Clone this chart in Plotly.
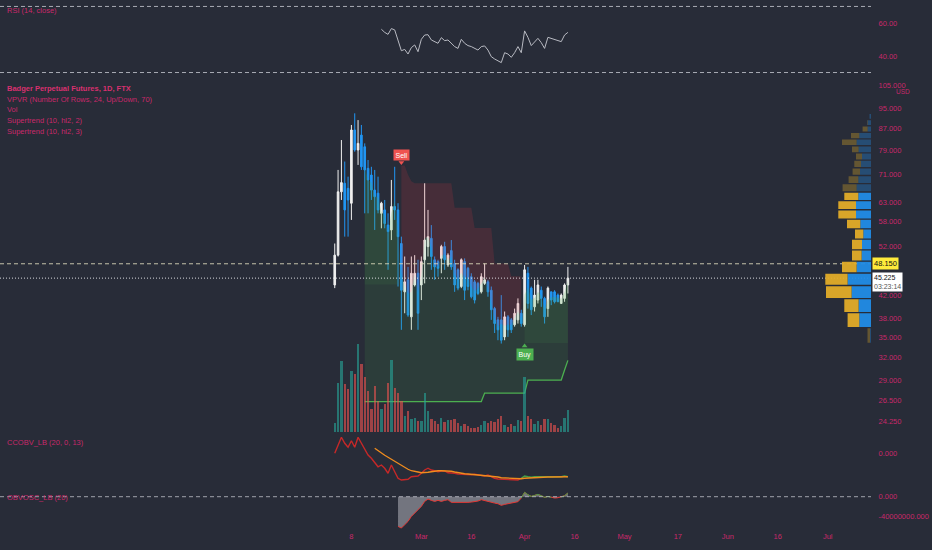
import numpy as np
import pandas as pd
import plotly.graph_objects as go

# ---------------- data ----------------
dates = pd.date_range("2021-02-03", periods=71, freq="D")

opens = [43.9, 50.0, 65.9, 68.4, 66.9, 62.7, 86.3, 79.1, 84.4, 80.2,
         73.0, 70.9, 66.4, 65.5, 60.0, 60.9, 57.0, 55.8, 61.8, 60.9,
         52.6, 42.6, 44.9, 38.2, 43.9, 46.2, 43.9, 49.0, 51.9, 53.8,
         49.0, 48.6, 49.3, 51.9, 47.9, 51.0, 48.2, 46.9, 43.6, 48.6,
         47.2, 45.5, 44.5, 44.2, 42.6, 44.2, 44.5, 42.9, 39.6, 37.7,
         37.7, 35.0, 38.2, 37.7, 36.9, 37.7, 38.8, 36.9, 46.2, 43.3,
         39.9, 41.1, 42.9, 41.4, 39.6, 42.6, 42.6, 42.0, 40.5, 41.4,
         43.9]
highs = [52.6, 72.5, 82.6, 75.2, 70.4, 88.2, 92.8, 90.1, 88.2, 81.4,
         75.7, 73.5, 72.5, 70.4, 63.1, 63.6, 60.0, 69.4, 73.5, 62.7,
         54.2, 49.7, 47.5, 49.7, 50.0, 49.0, 49.7, 68.4, 60.9, 57.0,
         49.7, 49.0, 52.3, 53.0, 50.4, 53.4, 49.0, 47.2, 49.3, 49.3,
         47.5, 46.2, 44.9, 44.5, 46.2, 48.2, 44.9, 43.6, 39.9, 38.2,
         42.0, 39.1, 38.5, 38.0, 39.6, 41.4, 39.4, 47.9, 47.5, 43.6,
         44.9, 44.9, 43.6, 41.7, 43.6, 42.6, 42.9, 42.3, 42.3, 44.2,
         47.5]
lows = [43.3, 49.7, 63.6, 54.2, 54.2, 58.3, 78.5, 74.1, 72.5, 60.0,
        60.0, 63.6, 55.8, 60.0, 56.2, 56.2, 46.9, 53.4, 58.3, 43.6,
        36.1, 38.8, 38.2, 36.1, 43.6, 36.1, 41.1, 44.2, 49.7, 46.9,
        44.9, 45.5, 46.2, 46.9, 47.5, 46.9, 42.6, 42.9, 43.3, 41.1,
        42.9, 41.4, 40.5, 42.0, 42.3, 43.9, 41.7, 37.7, 35.6, 34.5,
        34.0, 34.5, 35.0, 35.6, 36.6, 37.1, 36.6, 36.6, 39.6, 38.5,
        39.1, 40.5, 39.9, 37.1, 38.2, 40.2, 40.5, 40.8, 40.5, 40.8,
        42.3]
closes = [50.0, 65.9, 68.6, 60.9, 63.6, 86.3, 79.1, 81.4, 73.5, 72.5,
          69.4, 66.4, 64.5, 60.9, 62.7, 57.4, 55.4, 61.8, 60.9, 54.2,
          42.9, 44.5, 38.5, 46.2, 46.2, 38.8, 48.6, 53.4, 54.2, 49.7,
          47.5, 47.2, 51.9, 49.0, 50.0, 47.5, 43.9, 43.3, 49.0, 42.9,
          43.6, 41.7, 41.1, 42.3, 45.5, 44.9, 42.6, 39.4, 37.1, 36.1,
          34.5, 38.2, 36.1, 36.1, 38.8, 40.5, 37.1, 46.9, 40.5, 39.4,
          42.0, 43.9, 41.4, 38.2, 43.3, 41.1, 40.8, 40.8, 42.0, 43.9,
          45.225]
volume_k = [280, 1480, 2130, 1430, 1280, 1830, 1730, 2630, 2030, 1660,
            1230, 680, 1380, 930, 680, 830, 1480, 2150, 1330, 1180,
            930, 480, 630, 380, 410, 330, 330, 1180, 630, 380,
            330, 230, 410, 310, 350, 350, 380, 280, 180, 230,
            180, 130, 130, 150, 200, 330, 280, 330, 310, 380,
            480, 200, 160, 230, 180, 350, 330, 1650, 480, 380,
            230, 330, 210, 400, 380, 280, 200, 130, 180, 430,
            660]

rsi_start = 14
rsi_vals = [56.2, 54.3, 53.1, 56.6, 55.8, 49.7, 43.2, 44.0, 41.2, 45.1,
            46.7, 42.6, 50.1, 52.7, 52.9, 49.7, 48.7, 47.7, 51.1, 49.3,
            49.7, 47.7, 45.7, 44.6, 50.1, 47.7, 46.3, 45.7, 44.6, 43.6,
            45.7, 46.1, 43.6, 39.6, 38.2, 37.0, 36.0, 42.0, 41.2, 39.2,
            42.0, 45.7, 42.0, 55.2, 51.3, 46.3, 48.7, 50.7, 48.1, 44.6,
            51.3, 50.7, 50.1, 49.1, 48.7, 52.7, 54.3]

ccobv_m = [-0.1, 2.8, 6.3, 3.9, 2.3, 4.9, 2.3, 6.3, 3.9, 1.2,
           -0.8, -2.1, -3.9, -5.5, -4.8, -6.1, -8.1, -4.8, -7.5, -10.1,
           -10.8, -10.5, -10.5, -9.5, -9.2, -9.2, -8.1, -6.8, -6.1, -6.8,
           -7.1, -7.5, -7.2, -7.2, -7.9, -7.9, -8.1, -8.4, -8.5, -8.8,
           -8.8, -8.7, -8.5, -8.8, -8.8, -9.2, -8.8, -9.5, -10.1, -10.4,
           -10.5, -10.5, -10.7, -10.8, -10.8, -10.8, -10.1, -9.2, -9.5, -9.7,
           -9.5, -9.5, -9.5, -9.5, -9.7, -9.7, -9.5, -9.5, -9.5, -9.2,
           -9.5]
signal_start = 12
ccobv_signal_m = [1.9, 0.9, -0.1, -0.9, -1.7, -2.5, -3.5, -4.3, -5.2, -5.9,
                  -6.5, -7.1, -7.5, -7.6, -7.9, -7.9, -7.7, -7.5, -7.2, -7.1,
                  -7.1, -7.1, -7.2, -7.3, -7.6, -7.9, -8.1, -8.3, -8.4, -8.5,
                  -8.8, -8.8, -8.9, -9.1, -9.2, -9.3, -9.5, -9.6, -9.9, -10.0,
                  -10.1, -10.1, -10.3, -10.3, -10.3, -10.1, -10.0, -9.9, -9.7, -9.7,
                  -9.7, -9.7, -9.6, -9.6, -9.6, -9.6, -9.6, -9.6, -9.5]
ccobv_green_from = 56

obvosc_start = 19
obvosc_m = [-61.4, -64.9, -57.9, -51.1, -40.8, -33.8, -27.0, -20.0, -9.7, -4.8,
            -7.6, -9.7, -7.6, -9.7, -7.6, -6.2, -11.7, -11.7, -13.2, -11.7,
            -11.7, -11.7, -11.1, -10.3, -9.0, -6.2, -8.3, -10.3, -11.7, -13.2,
            -14.5, -17.9, -15.9, -14.5, -13.2, -11.7, -10.3, -2.7, 9.0, 4.1,
            0.7, 2.7, 4.8, 2.1, -1.4, 0.7, -1.4, -2.7, -2.1, -0.7,
            2.1, 7.6]

# Supertrend (10, hl2, 2)
st2_up_early_start = 9
st2_up_early = [44.0, 44.0, 44.0, 44.0, 44.0, 44.0, 44.0, 44.0, 44.0, 44.0, 44.0]
st2_dn_start = 20
st2_dn = [73.9, 73.9, 71.0, 69.0,
          68.4, 68.4, 68.4, 68.4, 68.4, 68.4, 68.4, 68.4, 68.4, 68.4, 68.4, 68.4,
          61.5, 61.5, 61.5, 61.5, 61.5, 61.5,
          56.3, 56.3, 56.3, 56.3, 56.3, 56.3,
          48.2, 48.2, 48.2, 48.2, 48.2,
          45.6, 45.6, 45.6, 45.6]
st2_up_late_start = 57
st2_up_late = [34.1, 34.1, 34.1, 34.1, 34.1, 34.1, 34.1, 34.1, 34.1, 34.1, 34.1, 34.1, 34.1, 34.1]
# Supertrend (10, hl2, 3)
st3_start = 9
st3_up = [26.4, 26.4, 26.4, 26.4, 26.4, 26.4, 26.4, 26.4, 26.4, 26.4,
          26.4, 26.4, 26.4, 26.4, 26.4, 26.4, 26.4, 26.4, 26.4, 26.4,
          26.4, 26.4, 26.4, 26.4, 26.4, 26.4, 26.4, 26.4, 26.4, 26.4,
          26.4, 26.4, 26.4, 26.4, 26.4, 26.4,
          27.4, 27.4, 27.4, 27.4, 27.4, 27.4, 27.4, 27.4, 27.4, 27.4, 27.4, 27.4, 27.4,
          29.0, 29.0, 29.0, 29.0, 29.0, 29.0, 29.0, 29.0, 29.0, 29.0, 29.0,
          30.3, 31.6]
sell_index = 20
buy_index = 57

# Volume profile (24 rows, bottom to top), relative volume
vp_up = [1.0, 11.7, 12.4, 19.4, 23.4, 14.4, 9.4, 9.0, 7.7, 10.7, 15.0, 15.0,
         12.7, 14.4, 12.7, 11.0, 10.0, 9.0, 12.4, 14.4, 11.7, 3.4, 3.4, 1.5]
vp_down = [2.5, 11.7, 14.3, 25.6, 22.3, 14.6, 9.6, 10.0, 8.3, 13.3, 17.7, 17.7,
           14.0, 14.0, 9.7, 7.4, 6.7, 6.0, 6.6, 14.6, 8.3, 5.0, 0.5, 0.0]
va_rows = (1, 12)

alert_price = 48.150
last_price = 45.225
countdown = "03:23:14"

price_ticks = [105, 95, 87, 79, 71, 63, 58, 52, 42, 38, 35, 32, 29, 26.5, 24.25]
rsi_ticks = [60, 40]
date_ticks = ["2021-02-08", "2021-03-01", "2021-03-16", "2021-04-01", "2021-04-16",
              "2021-05-01", "2021-05-17", "2021-06-01", "2021-06-16", "2021-07-01"]
date_tick_text = ["8", "Mar", "16", "Apr", "16", "May", "17", "Jun", "16", "Jul"]

legend_lines = ["Badger Perpetual Futures, 1D, FTX", "VPVR (Number Of Rows, 24, Up/Down, 70)",
                "Vol", "Supertrend (10, hl2, 2)", "Supertrend (10, hl2, 3)"]

# ---------------- layout geometry ----------------
PW, PH = 871, 530
BG = "#282c38"
PINK = "#c8286a"
FONT = "Liberation Sans"

def dom(top_px, bot_px):
    return [1 - bot_px / PH, 1 - top_px / PH]

t_left = dates[0] - pd.Timedelta(hours=100.5 * 24)
t_right = dates[0] + pd.Timedelta(days=161)
PXLN = 229.3  # px per ln unit of price

O = np.array(opens); Hh = np.array(highs); Lw = np.array(lows); C = np.array(closes)
ohlc4 = (O + Hh + Lw + C) / 4
up = C >= O

fig = go.Figure()

# Supertrend 3 fill (green) and line
d = dates[st3_start:]
fig.add_trace(go.Scatter(x=d, y=st3_up, mode="lines", line=dict(color="#4caf50", width=1.3),
                         xaxis="x", yaxis="y2", hoverinfo="skip"))
fig.add_trace(go.Scatter(x=d, y=ohlc4[st3_start:], mode="lines", line=dict(width=0),
                         fill="tonexty", fillcolor="rgba(76,175,80,0.13)",
                         xaxis="x", yaxis="y2", hoverinfo="skip"))
# Supertrend 2 early uptrend fill
n = len(st2_up_early)
d = dates[st2_up_early_start:st2_up_early_start + n]
fig.add_trace(go.Scatter(x=d, y=st2_up_early, mode="lines", line=dict(width=0),
                         xaxis="x", yaxis="y2", hoverinfo="skip"))
fig.add_trace(go.Scatter(x=d, y=ohlc4[st2_up_early_start:st2_up_early_start + n],
                         mode="lines", line=dict(width=0), fill="tonexty",
                         fillcolor="rgba(76,175,80,0.10)", xaxis="x", yaxis="y2", hoverinfo="skip"))
# Supertrend 2 downtrend fill (red)
n = len(st2_dn)
d = dates[st2_dn_start:st2_dn_start + n]
fig.add_trace(go.Scatter(x=d, y=ohlc4[st2_dn_start:st2_dn_start + n], mode="lines",
                         line=dict(width=0), xaxis="x", yaxis="y2", hoverinfo="skip"))
fig.add_trace(go.Scatter(x=d, y=st2_dn, mode="lines", line=dict(width=0), fill="tonexty",
                         fillcolor="rgba(242,54,69,0.15)", xaxis="x", yaxis="y2", hoverinfo="skip"))
# Supertrend 2 late uptrend fill
d = dates[st2_up_late_start:]
fig.add_trace(go.Scatter(x=d, y=st2_up_late, mode="lines", line=dict(width=0),
                         xaxis="x", yaxis="y2", hoverinfo="skip"))
fig.add_trace(go.Scatter(x=d, y=ohlc4[st2_up_late_start:], mode="lines", line=dict(width=0),
                         fill="tonexty", fillcolor="rgba(76,175,80,0.10)",
                         xaxis="x", yaxis="y2", hoverinfo="skip"))

# price level lines
fig.add_trace(go.Scatter(x=[t_left, t_right], y=[alert_price, alert_price], mode="lines",
                         line=dict(color="rgba(225,222,190,0.85)", width=1, dash="4px,3px"),
                         xaxis="x", yaxis="y2", hoverinfo="skip"))
fig.add_trace(go.Scatter(x=[t_left, t_right], y=[last_price, last_price], mode="lines",
                         line=dict(color="rgba(235,235,240,0.9)", width=1, dash="1px,2px"),
                         xaxis="x", yaxis="y2", hoverinfo="skip"))

# candles
fig.add_trace(go.Candlestick(x=dates, open=opens, high=highs, low=lows, close=closes,
                             xaxis="x", yaxis="y2", whiskerwidth=0,
                             increasing=dict(line=dict(color="#f0f0f0", width=1), fillcolor="#f0f0f0"),
                             decreasing=dict(line=dict(color="#2196f3", width=1), fillcolor="#2196f3"),
                             hoverinfo="skip"))

# sell / buy markers
sell_y = st2_dn[0]
buy_y = st2_up_late[0]
fig.add_trace(go.Scatter(x=[dates[sell_index]], y=[sell_y * np.exp(3 / PXLN)], mode="markers",
                         marker=dict(symbol="triangle-down", size=5, color="#ef5350"),
                         xaxis="x", yaxis="y2", hoverinfo="skip"))
fig.add_trace(go.Scatter(x=[dates[buy_index]], y=[buy_y * np.exp(-3 / PXLN)], mode="markers",
                         marker=dict(symbol="triangle-up", size=5, color="#4caf50"),
                         xaxis="x", yaxis="y2", hoverinfo="skip"))

# volume profile
step = (max(highs) - min(lows)) / 24
groups = {"up_in": ([], []), "dn_in": ([], []), "up_out": ([], []), "dn_out": ([], [])}
for k in range(24):
    lo = (min(lows) + k * step) * 1.003
    hi = (min(lows) + (k + 1) * step) / 1.003
    tag = "in" if va_rows[0] <= k <= va_rows[1] else "out"
    for key, x0, x1 in (("up_" + tag, 0, vp_up[k]), ("dn_" + tag, vp_up[k], vp_up[k] + vp_down[k])):
        if x1 - x0 <= 0:
            continue
        gx, gy = groups[key]
        gx += [x0, x1, x1, x0, x0, None]
        gy += [lo, lo, hi, hi, lo, None]
vp_colors = {"up_in": "rgba(33,140,230,0.95)", "dn_in": "rgba(226,172,40,0.95)",
             "up_out": "rgba(33,140,230,0.35)", "dn_out": "rgba(226,172,40,0.33)"}
for key, (gx, gy) in groups.items():
    fig.add_trace(go.Scatter(x=gx, y=gy, mode="lines", line=dict(width=0), fill="toself",
                             fillcolor=vp_colors[key], xaxis="x2", yaxis="y2", hoverinfo="skip"))

# volume bars
vol_colors = ["rgba(38,166,154,0.6)" if u else "rgba(239,83,80,0.6)" for u in up]
fig.add_trace(go.Bar(x=dates, y=volume_k, marker=dict(color=vol_colors, line=dict(width=0)),
                     width=0.7 * 86400000, xaxis="x", yaxis="y3", hoverinfo="skip"))

# RSI
fig.add_trace(go.Scatter(x=dates[rsi_start:], y=rsi_vals, mode="lines",
                         line=dict(color="#b8bac2", width=1), xaxis="x", yaxis="y", hoverinfo="skip"))

# CCOBV
cc = np.array(ccobv_m)
red_part = [v if i <= ccobv_green_from else None for i, v in enumerate(cc)]
green_part = [v if i >= ccobv_green_from else None for i, v in enumerate(cc)]
fig.add_trace(go.Scatter(x=dates, y=red_part, mode="lines", line=dict(color="#c62828", width=1.4),
                         xaxis="x", yaxis="y4", hoverinfo="skip"))
fig.add_trace(go.Scatter(x=dates, y=green_part, mode="lines", line=dict(color="#43a047", width=1.4),
                         xaxis="x", yaxis="y4", hoverinfo="skip"))
fig.add_trace(go.Scatter(x=dates[signal_start:], y=ccobv_signal_m, mode="lines",
                         line=dict(color="#f08c1e", width=1.3), xaxis="x", yaxis="y4", hoverinfo="skip"))

# OBV oscillator
ob = np.array(obvosc_m) * 1e6
d = dates[obvosc_start:]
fig.add_trace(go.Scatter(x=d, y=ob, mode="lines", line=dict(color="#e53935", width=1),
                         fill="tozeroy", fillcolor="rgba(190,190,198,0.5)",
                         xaxis="x", yaxis="y5", hoverinfo="skip"))
pos = ob >= 0
g_y = [v if (pos[i] or (i > 0 and pos[i - 1]) or (i < len(ob) - 1 and pos[i + 1])) else None
       for i, v in enumerate(ob)]
fig.add_trace(go.Scatter(x=d, y=g_y, mode="lines", line=dict(color="#43a047", width=1),
                         xaxis="x", yaxis="y5", hoverinfo="skip"))

# ---------------- layout ----------------
tickfont = dict(family=FONT, size=7.5, color=PINK)
yax_common = dict(side="right", showgrid=False, zeroline=False, showline=False,
                  ticks="outside", ticklen=5, tickcolor=BG, tickfont=tickfont, fixedrange=True)

annotations = []
def legend(text, y_px, bold=False, color=PINK):
    annotations.append(dict(text=("<b>%s</b>" % text) if bold else text, xref="paper", yref="paper",
                            x=5 / PW, y=1 - y_px / PH, xanchor="left", yanchor="middle",
                            showarrow=False, font=dict(family=FONT, size=7.5, color=color)))

legend("RSI (14, close)", 11)
for i, t in enumerate(legend_lines):
    legend(t, 89 + i * 10.5, bold=(i == 0), color="#d8306f" if i == 0 else PINK)
legend("CCOBV_LB (20, 0, 13)", 442)
legend("OBVOSC_LB (20)", 497)

annotations.append(dict(text="Sell", x=dates[sell_index], y=np.log10(sell_y), xref="x", yref="y2",
                        yanchor="bottom", yshift=5, showarrow=False, bgcolor="#ef5350", borderpad=1.5,
                        font=dict(family=FONT, size=7, color="white")))
annotations.append(dict(text="Buy", x=dates[buy_index], y=np.log10(buy_y), xref="x", yref="y2",
                        yanchor="top", yshift=-5, showarrow=False, bgcolor="#4caf50", borderpad=1.5,
                        font=dict(family=FONT, size=7, color="white")))
annotations.append(dict(text="%.3f" % alert_price, xref="paper", x=1, xanchor="left", xshift=1,
                        yref="y2", y=np.log10(alert_price), yanchor="middle", showarrow=False,
                        bgcolor="#ffeb3b", borderpad=1, font=dict(family=FONT, size=7.5, color="#111")))
annotations.append(dict(text="%.3f<br><span style='color:#555'>%s</span>" % (last_price, countdown),
                        xref="paper", x=1, xanchor="left", xshift=1, align="left",
                        yref="y2", y=np.log10(last_price), yanchor="top", yshift=6, showarrow=False,
                        bgcolor="#ffffff", borderpad=1, font=dict(family=FONT, size=7, color="#111")))
annotations.append(dict(text="USD", xref="paper", x=1, xanchor="left", xshift=23, yref="y2",
                        y=np.log10(105), yanchor="top", yshift=-1, showarrow=False,
                        font=dict(family=FONT, size=6.5, color=PINK)))

shapes = []
for lvl in (70, 30):
    shapes.append(dict(type="line", xref="paper", x0=0, x1=1, yref="y", y0=lvl, y1=lvl,
                       line=dict(color="rgba(200,202,210,0.8)", width=1, dash="4px,3px")))
shapes.append(dict(type="line", xref="paper", x0=0, x1=1, yref="y5", y0=0, y1=0,
                   line=dict(color="rgba(190,192,200,0.8)", width=1, dash="4px,3px")))

fig.update_layout(
    width=932, height=550, margin=dict(l=0, r=932 - PW, t=0, b=550 - PH),
    paper_bgcolor=BG, plot_bgcolor=BG, showlegend=False, bargap=0,
    xaxis=dict(type="date", range=[t_left, t_right], anchor="y5", showgrid=False, zeroline=False,
               tickvals=date_ticks, ticktext=date_tick_text, tickfont=tickfont, ticks="",
               rangeslider=dict(visible=False), fixedrange=True),
    xaxis2=dict(overlaying="x", range=[PW, 0], visible=False, anchor="y2", fixedrange=True),
    yaxis=dict(domain=dom(0, 76), range=[27.9, 73.9], tickvals=rsi_ticks,
               ticktext=["%.2f" % v for v in rsi_ticks], **yax_common),
    yaxis2=dict(domain=dom(77, 432), type="log",
                range=[np.log10(105 * np.exp(-347 / PXLN)), np.log10(105 * np.exp(8 / PXLN))],
                tickvals=price_ticks, ticktext=["%.3f" % v for v in price_ticks], **yax_common),
    yaxis3=dict(overlaying="y2", range=[0, 355 * 3 * 10], visible=False, fixedrange=True),
    yaxis4=dict(domain=dom(433, 489), range=[-14.4, 8.0], tickvals=[0], ticktext=["0.000"], **yax_common),
    yaxis5=dict(domain=dom(490, PH), range=[-68.9e6, 13.9e6], tickvals=[0, -40e6],
                ticktext=["0.000", "-40000000.000"], **yax_common),
    annotations=annotations, shapes=shapes,
)

fig.write_html("out.html", config=dict(displayModeBar=False),
               post_script="document.body.style.margin='0px';document.body.style.background='%s';" % BG)
